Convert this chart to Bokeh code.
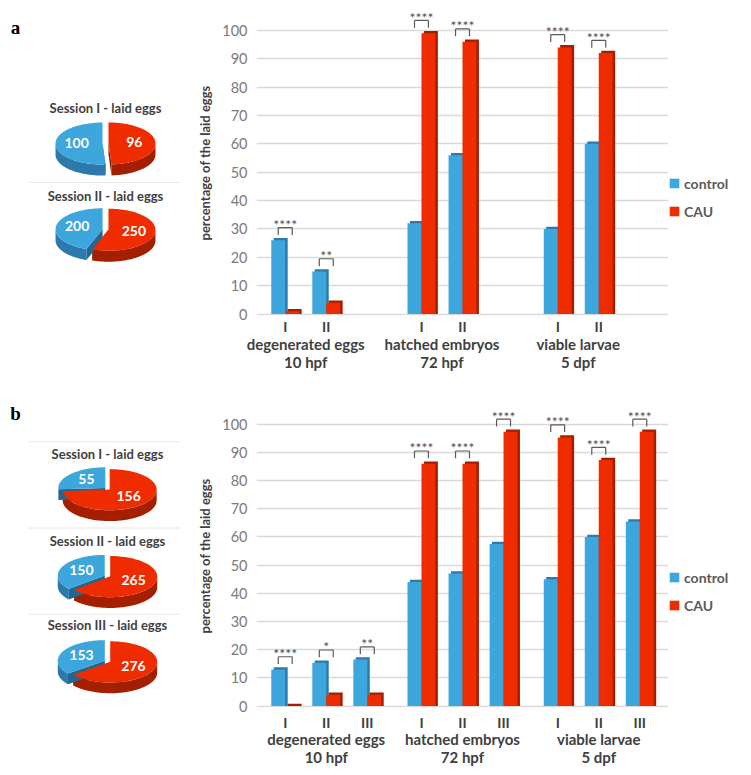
import numpy as np
from bokeh.plotting import figure
from bokeh.models import (Range1d, FixedTicker, Legend, LegendItem, LinearAxis,
                          ColumnDataSource)
from bokeh.transform import dodge
from bokeh.layouts import row, column
from bokeh.embed import file_html
from bokeh.resources import INLINE
from bokeh.core.properties import value

# ---------------- data ----------------
group_names = ["degenerated eggs", "hatched embryos", "viable larvae"]
group_times = ["10 hpf", "72 hpf", "5 dpf"]
slots = ["I", "II", "III"]
sessions_a = ["I", "II"]
sessions_b = ["I", "II", "III"]
series = ["control", "CAU"]

control_a = [26, 15, 32, 56, 30, 60]
cau_a = [1, 4, 99, 96, 94, 92]
stars_a = ["****", "**", "****", "****", "****", "****"]

control_b = [13, 15.4, 16.5, 44, 47, 57.5, 45, 60, 65.5]
cau_b = [0, 4, 4, 86, 86, 97.3, 95.3, 87.3, 97.3]
stars_b = ["****", "*", "**", "****", "****", "****", "****", "****", "****"]

pie_titles_a = ["Session I - laid eggs", "Session II - laid eggs"]
pie_control_a = [100, 200]
pie_cau_a = [96, 250]

pie_titles_b = ["Session I - laid eggs", "Session II - laid eggs", "Session III - laid eggs"]
pie_control_b = [55, 150, 153]
pie_cau_b = [156, 265, 276]

y_ticks = list(range(0, 101, 10))
y_label = "percentage of the laid eggs"

# ---------------- style ----------------
BLUE, BLUE_D, BLUE_R = "#3DA6DD", "#2B7AAB", "#23668F"
RED, RED_D, RED_R = "#EE2C00", "#A41E00", "#8A1800"
FONT = "Lato"
GP = 0.32     # gap between groups, in slot widths
BW = 0.34     # bar width, in slot widths
TXT = "#404040"


def slot_x(k, j):
    # position of slot j of group k on the category axis
    return k * (len(slots) + GP) + j + 0.5


def overrides(ticks, labels):
    d = {}
    for t, l in zip(ticks, labels):
        d[float(t)] = l
        d[str(int(t)) if float(t).is_integer() else repr(float(t))] = l
    return d


def style_axis(ax, standoff, bold=True, size="14px"):
    ax.axis_line_color = None
    ax.major_tick_line_color = None
    ax.minor_tick_line_color = None
    ax.major_tick_out = 0
    ax.major_tick_in = 0
    ax.major_label_text_font = FONT
    ax.major_label_text_font_style = "bold" if bold else "normal"
    ax.major_label_text_font_size = size
    ax.major_label_text_color = TXT
    ax.major_label_standoff = standoff


def bar_fig(sessions, control, cau, stars, frame_h, b_top, b_bottom, st, legend_y):
    groups_idx = list(range(len(group_names)))
    n_slots = len(groups_idx) * len(slots)
    x0, x1 = -0.2, n_slots + 2 * GP + 0.2
    p = figure(x_range=Range1d(x0, x1), y_range=Range1d(-0.5, 107),
               frame_width=412, frame_height=frame_h,
               min_border_left=76, min_border_right=70, min_border_top=b_top,
               min_border_bottom=b_bottom, output_backend="svg", toolbar_location=None)
    p.outline_line_color = None
    p.xgrid.grid_line_color = None
    p.ygrid.ticker = FixedTicker(ticks=y_ticks)
    p.ygrid.grid_line_color = "#d9d9d9"
    p.ygrid.grid_line_width = 1.4
    ya = p.yaxis[0]
    ya.ticker = FixedTicker(ticks=y_ticks)
    style_axis(ya, 9, bold=False, size="14.5px")
    ya.major_label_text_color = "#7a7a7a"
    ya.axis_label = y_label
    ya.axis_label_text_font = FONT
    ya.axis_label_text_font_style = "bold"
    ya.axis_label_text_font_size = "13px"
    ya.axis_label_text_color = TXT
    ya.axis_label_standoff = 6

    xs = [slot_x(k, slots.index(s)) for k in groups_idx for s in sessions]
    sess_lbl = [s for k in groups_idx for s in sessions]
    centers = [float(np.mean([slot_x(k, slots.index(s)) for s in sessions])) for k in groups_idx]

    xa = p.xaxis[0]
    xa.ticker = FixedTicker(ticks=xs)
    xa.major_label_overrides = overrides(xs, sess_lbl)
    style_axis(xa, st[0])
    xa2 = LinearAxis(ticker=FixedTicker(ticks=centers),
                     major_label_overrides=overrides(centers, group_names))
    style_axis(xa2, st[1], size="15px")
    xa3 = LinearAxis(ticker=FixedTicker(ticks=centers),
                     major_label_overrides=overrides(centers, group_times))
    style_axis(xa3, st[2], size="15px")
    p.add_layout(xa2, "below")
    p.add_layout(xa3, "below")

    ctop = [c + 0.8 for c in control]
    utop = [u + 0.8 for u in cau]
    by = [max(c, u) + 4.5 for c, u in zip(control, cau)]
    bt = [b - 2.6 for b in by]
    sy = [b + 1.1 for b in by]
    src = ColumnDataSource(dict(x=xs, control=control, cau=cau, ctop=ctop, utop=utop,
                                by=by, bt=bt, sy=sy, stars=stars))
    d = 0.06
    p.vbar(x=dodge("x", -BW / 2 + d), top="ctop", width=BW, source=src,
           fill_color=BLUE_D, line_color=None)
    p.vbar(x=dodge("x", BW / 2 + d), top="utop", width=BW, source=src,
           fill_color=RED_D, line_color=None)
    rb = p.vbar(x=dodge("x", -BW / 2), top="control", width=BW, source=src,
                fill_color=BLUE, line_color=None)
    rr = p.vbar(x=dodge("x", BW / 2), top="cau", width=BW, source=src,
                fill_color=RED, line_color=None)
    lc, lw = "#5a5a5a", 1.2
    p.segment(x0=dodge("x", -BW / 2), x1=dodge("x", BW / 2),
              y0="by", y1="by", source=src, line_color=lc, line_width=lw)
    p.segment(x0=dodge("x", -BW / 2), x1=dodge("x", -BW / 2),
              y0="by", y1="bt", source=src, line_color=lc, line_width=lw)
    p.segment(x0=dodge("x", BW / 2), x1=dodge("x", BW / 2),
              y0="by", y1="bt", source=src, line_color=lc, line_width=lw)
    p.text(x="x", y="sy", text="stars", source=src, text_align="center",
           text_baseline="middle", text_font=value(FONT), text_font_size="14px",
           text_color="#505050")

    leg = Legend(items=[LegendItem(label=series[0], renderers=[rb]),
                        LegendItem(label=series[1], renderers=[rr])],
                 location=(0, legend_y), border_line_color=None, background_fill_alpha=0,
                 glyph_width=12, glyph_height=12, label_height=20, label_standoff=4,
                 spacing=8, padding=0, margin=17,
                 label_text_font=FONT, label_text_font_style="bold",
                 label_text_font_size="14px", label_text_color="#595959")
    p.add_layout(leg, "right")
    return p


def ell(cx, cy, a0, a1, rx, ry, n=80):
    t = np.linspace(a0, a1, n)
    return cx + rx * np.cos(t), cy - ry * np.sin(t)


def pie_fig(width, height, yr, letter, letter_xy, titles, ctrl, cau, cys, tys, seps, cx):
    # the frame of this figure is aligned with the bar chart's frame in the row,
    # so its y range is set to the pixel span of that frame
    p = figure(width=width, height=height, x_range=Range1d(0, width),
               y_range=Range1d(yr[1], yr[0]), x_axis_location=None, y_axis_location=None,
               min_border=0, output_backend="svg", toolbar_location=None)
    p.grid.visible = False
    p.outline_line_color = None
    p.text(x=[letter_xy[0]], y=[letter_xy[1]], text=[letter], text_font=value("Liberation Serif"),
           text_font_style="bold", text_font_size="19px", text_align="center",
           text_baseline="middle", text_color="#000000")
    for sy_ in seps:
        p.segment(x0=[28], x1=[182], y0=[sy_], y1=[sy_], line_color="#e8e8e8", line_width=1)
    p.text(x=[cx] * len(titles), y=tys, text=titles, text_font=value(FONT),
           text_font_style="bold", text_font_size="13px", text_align="center",
           text_baseline="middle", text_color=TXT)
    rx, ry, th, ex = 47, 21, 11, 3
    side_xs, side_ys, side_c = [], [], []
    top_xs, top_ys, top_c = [], [], []
    lx, ly, lt = [], [], []
    for c, u, cy in zip(ctrl, cau, cys):
        tot = c + u
        sl = [(np.pi / 2 - 2 * np.pi * u / tot, np.pi / 2, RED, RED_D, RED_R, u),
              (np.pi / 2, np.pi / 2 + 2 * np.pi * c / tot, BLUE, BLUE_D, BLUE_R, c)]
        for a0, a1, col, dcol, rcol, v in sl:
            b = (a0 + a1) / 2
            ox = cx + ex * np.cos(b)
            oy = cy - ex * np.sin(b) * ry / rx
            for ae in (a0, a1):
                ex_, ey_ = ox + rx * np.cos(ae), oy - ry * np.sin(ae)
                side_xs.append([ox, ex_, ex_, ox])
                side_ys.append([oy, ey_, ey_ + th, oy + th])
                side_c.append(rcol)
            for lo, hi in ((max(a0, -np.pi), min(a1, 0)), (max(a0, np.pi), min(a1, 2 * np.pi))):
                if hi > lo:
                    xs, ys = ell(ox, oy, lo, hi, rx, ry)
                    side_xs.append(list(xs) + list(xs[::-1]))
                    side_ys.append(list(ys) + list((ys + th)[::-1]))
                    side_c.append(dcol)
            xs, ys = ell(ox, oy, a0, a1, rx, ry)
            top_xs.append([ox] + list(xs))
            top_ys.append([oy] + list(ys))
            top_c.append(col)
            lx.append(ox + 0.55 * rx * np.cos(b))
            ly.append(oy - 0.55 * ry * np.sin(b) - 1)
            lt.append(str(v))
    p.patches(side_xs, side_ys, fill_color=side_c, line_color=None)
    p.patches(top_xs, top_ys, fill_color=top_c, line_color=None)
    p.text(x=lx, y=ly, text=lt, text_font=value(FONT), text_font_style="bold",
           text_font_size="14px", text_align="center", text_baseline="middle",
           text_color="#ffffff")
    return p


pa = pie_fig(180, 394, (10, 315), "a", (15, 27), pie_titles_a, pie_control_a, pie_cau_a,
             [143, 229], [107, 195], [182], 105)
ba = bar_fig(sessions_a, control_a, cau_a, stars_a, 305, 10, 79, (2, -3, -3), 94)
pb = pie_fig(180, 368, (10, 313), "b", (15, 19), pie_titles_b, pie_control_b, pie_cau_b,
             [96, 185, 272], [61, 149, 235], [48, 136, 224], 107)
bb = bar_fig(sessions_b, control_b, cau_b, stars_b, 303, 10, 55, (6, -4, -3), 92)

layout = column(row(pa, ba), row(pb, bb))
open("out.html", "w").write(file_html(layout, INLINE))
